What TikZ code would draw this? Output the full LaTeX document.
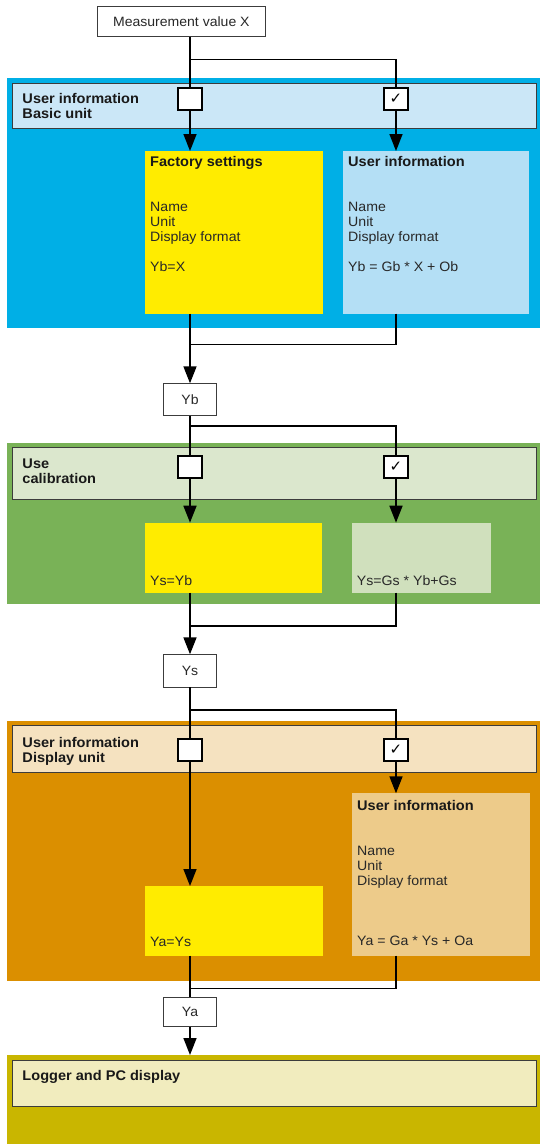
\documentclass[tikz,border=0pt]{standalone}
\usepackage{fontspec}
\setmainfont{Liberation Sans}[FakeStretch=1.04]
\newfontfamily\symfont{DejaVu Sans}
\usetikzlibrary{arrows.meta}
\definecolor{cBlue}{RGB}{0,175,230}
\definecolor{cBlueH}{RGB}{203,231,247}
\definecolor{cBlueB}{RGB}{180,223,245}
\definecolor{cYel}{RGB}{255,236,0}
\definecolor{cGreen}{RGB}{121,178,87}
\definecolor{cGreenH}{RGB}{219,231,205}
\definecolor{cGreenB}{RGB}{208,224,189}
\definecolor{cOrange}{RGB}{219,143,0}
\definecolor{cOrangeH}{RGB}{245,226,192}
\definecolor{cOrangeB}{RGB}{237,203,138}
\definecolor{cOlive}{RGB}{201,182,0}
\definecolor{cOliveH}{RGB}{241,236,190}
\definecolor{cText}{RGB}{40,40,40}
\definecolor{cBorder}{RGB}{60,60,60}
\newcommand\mkrect[7]{\node[#7, anchor=north west, inner sep=0pt, outer sep=0pt, minimum width={#4-#2}, minimum height={#5-#3}] (#1) at (#2,#3) {#6};}
\newcommand\mktext[5]{\node[#5, anchor=base west, inner sep=0pt] (#1) at (#2,#3) {#4};}
\begin{document}
\begin{tikzpicture}[x=1pt,y=-1pt,
  region/.style={fill=#1},
  band/.style={fill=#1, draw=cBorder, line width=0.9pt},
  plain/.style={fill=#1},
  valbox/.style={fill=white, draw=cBorder, line width=0.9pt, text=cText, font=\fontsize{13.5}{15}\selectfont},
  chk/.style={fill=white, draw=black, line width=1.9pt, minimum width=24pt, minimum height=22pt, inner sep=0pt, outer sep=0pt, font=\symfont\fontsize{15}{15}\selectfont},
  hd/.style={font=\bfseries\fontsize{14}{15}\selectfont, text=black!90},
  tx/.style={font=\fontsize{13.6}{15}\selectfont, text=cText},
  conn/.style={line width=1.6pt, draw=black},
  arr/.style={conn, -{Triangle[width=13pt,length=17pt]}}
]
\useasboundingbox (0,0) rectangle (540,1144);
% regions
\mkrect{blueR}{7}{77.7}{540}{328.3}{}{region=cBlue}
\mkrect{greenR}{7}{443.3}{540}{604.3}{}{region=cGreen}
\mkrect{orangeR}{7}{721}{540}{980.5}{}{region=cOrange}
\mkrect{oliveR}{7}{1055}{540}{1144}{}{region=cOlive}
% header bands
\mkrect{blueH}{12.3}{83.3}{536}{128.7}{}{band=cBlueH}
\mkrect{greenH}{12.3}{447.7}{536}{499}{}{band=cGreenH}
\mkrect{orangeH}{12.3}{725.7}{536}{772.3}{}{band=cOrangeH}
\mkrect{oliveH}{12.3}{1060}{536}{1106}{}{band=cOliveH}
% header texts
\mktext{hB1}{22.3}{103.3}{User information}{hd}
\mktext{hB2}{22.3}{118.3}{Basic unit}{hd}
\mktext{hG1}{22.3}{468.2}{Use}{hd}
\mktext{hG2}{22.3}{483.2}{calibration}{hd}
\mktext{hO1}{22.3}{747.5}{User information}{hd}
\mktext{hO2}{22.3}{762.5}{Display unit}{hd}
\mktext{hL1}{22.3}{1080.7}{Logger and PC display}{hd}
% value boxes
\mkrect{mx}{97.7}{6}{265}{36.7}{Measurement value X}{valbox}
\mkrect{yb}{163.5}{383.3}{216.5}{415.7}{Yb}{valbox}
\mkrect{ys}{163.5}{654.3}{216.5}{687}{Ys}{valbox}
\mkrect{ya}{163.5}{997.3}{216.5}{1026.7}{Ya}{valbox}
% checkboxes
\node[chk] (cbBL) at (190,99) {};
\node[chk] (cbBR) at (396,99) {✓};
\node[chk] (cbGL) at (190,466.7) {};
\node[chk] (cbGR) at (396,466.7) {✓};
\node[chk] (cbOL) at (190,749.7) {};
\node[chk] (cbOR) at (396,749.7) {✓};
% content boxes
\mkrect{fact}{145}{151}{323}{313.7}{}{plain=cYel}
\mkrect{uinfo}{343}{151}{529}{313.7}{}{plain=cBlueB}
\mkrect{ycal}{145}{522.7}{322}{592.7}{}{plain=cYel}
\mkrect{gcal}{352}{522.7}{491}{592.7}{}{plain=cGreenB}
\mkrect{ydisp}{145}{886}{323}{955.7}{}{plain=cYel}
\mkrect{odisp}{352}{793.3}{530}{955.7}{}{plain=cOrangeB}
% content texts
\mktext{fT}{150}{166.7}{Factory settings}{hd}
\mktext{fN}{150}{211.7}{Name}{tx}
\mktext{fU}{150}{226.7}{Unit}{tx}
\mktext{fD}{150}{241.7}{Display format}{tx}
\mktext{fF}{150}{271.7}{Yb=X}{tx}
\mktext{uT}{348}{166.7}{User information}{hd}
\mktext{uN}{348}{211.7}{Name}{tx}
\mktext{uU}{348}{226.7}{Unit}{tx}
\mktext{uD}{348}{241.7}{Display format}{tx}
\mktext{uF}{348}{271.7}{Yb = Gb * X + Ob}{tx}
\mktext{ycF}{150}{585}{Ys=Yb}{tx}
\mktext{gcF}{356.7}{585}{Ys=Gs * Yb+Gs}{tx}
\mktext{ydF}{150}{946}{Ya=Ys}{tx}
\mktext{oT}{357}{810.7}{User information}{hd}
\mktext{oN}{357}{855}{Name}{tx}
\mktext{oU}{357}{870}{Unit}{tx}
\mktext{oD}{357}{885}{Display format}{tx}
\mktext{oF}{357}{945.5}{Ya = Ga * Ys + Oa}{tx}
% branch / merge points
\coordinate (brB) at (190,59.3);
\coordinate (mgB) at (190,344.3);
\coordinate (brG) at (190,426);
\coordinate (mgG) at (190,625.7);
\coordinate (brO) at (190,710);
\coordinate (mgO) at (190,988.5);
% connectors: basic unit
\draw[conn] (mx.south -| cbBL.north) -- (cbBL.north);
\draw[conn] (brB) -| (cbBR.north);
\draw[arr] (cbBL.south) -- (cbBL.south |- fact.north);
\draw[arr] (cbBR.south) -- (cbBR.south |- uinfo.north);
\draw[arr] (fact.south -| yb.north) -- (yb.north);
\draw[conn] (uinfo.south -| cbBR.south) |- (mgB);
% calibration
\draw[conn] (yb.south) -- (cbGL.north);
\draw[conn] (brG) -| (cbGR.north);
\draw[arr] (cbGL.south) -- (cbGL.south |- ycal.north);
\draw[arr] (cbGR.south) -- (cbGR.south |- gcal.north);
\draw[arr] (ycal.south -| ys.north) -- (ys.north);
\draw[conn] (gcal.south -| cbGR.south) |- (mgG);
% display unit
\draw[conn] (ys.south) -- (cbOL.north);
\draw[conn] (brO) -| (cbOR.north);
\draw[arr] (cbOL.south) -- (cbOL.south |- ydisp.north);
\draw[arr] (cbOR.south) -- (cbOR.south |- odisp.north);
\draw[conn] (ydisp.south -| ya.north) -- (ya.north);
\draw[conn] (odisp.south -| cbOR.south) |- (mgO);
% logger
\draw[arr] (ya.south) -- (ya.south |- oliveR.north);
\end{tikzpicture}
\end{document}
